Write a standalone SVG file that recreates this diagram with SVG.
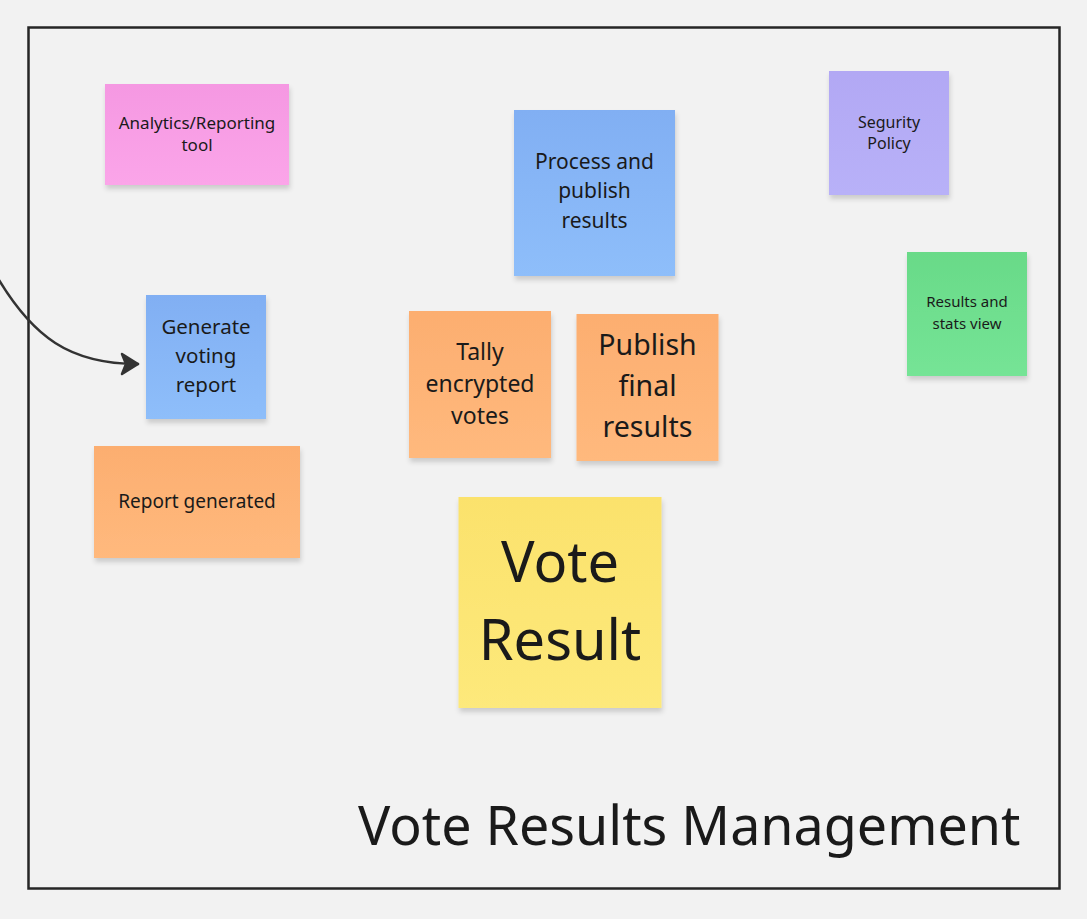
<svg xmlns="http://www.w3.org/2000/svg" width="1087" height="919" viewBox="0 0 1087 919">
<style>
  text { font-family: "Noto Sans", "Open Sans", sans-serif; text-anchor: middle; fill: #1a1a1a; }
  .note { filter: url(#shadow); }
  .frame { fill: none; stroke: #262626; stroke-width: 2.5; }
  .conn { fill: none; stroke: #333333; stroke-width: 2.5; stroke-linecap: round; }
</style>
<defs>
  <filter id="shadow" x="-10%" y="-10%" width="125%" height="130%">
    <feDropShadow dx="1" dy="4" stdDeviation="2.5" flood-color="#000" flood-opacity="0.16"/>
  </filter>
  <linearGradient id="gPink" x1="0" y1="0" x2="0" y2="1"><stop offset="0" stop-color="#f598e2"/><stop offset="1" stop-color="#fba5e9"/></linearGradient>
  <linearGradient id="gPurple" x1="0" y1="0" x2="0" y2="1"><stop offset="0" stop-color="#b2a8f4"/><stop offset="1" stop-color="#b8b1f8"/></linearGradient>
  <linearGradient id="gGreen" x1="0" y1="0" x2="0" y2="1"><stop offset="0" stop-color="#69da88"/><stop offset="1" stop-color="#75e496"/></linearGradient>
  <linearGradient id="gBlue" x1="0" y1="0" x2="0" y2="1"><stop offset="0" stop-color="#81aff3"/><stop offset="1" stop-color="#8ebefa"/></linearGradient>
  <linearGradient id="gOrange" x1="0" y1="0" x2="0" y2="1"><stop offset="0" stop-color="#fcae70"/><stop offset="1" stop-color="#ffb97d"/></linearGradient>
  <linearGradient id="gYellow" x1="0" y1="0" x2="0" y2="1"><stop offset="0" stop-color="#fbe26c"/><stop offset="1" stop-color="#fde97b"/></linearGradient>
  <marker id="arrow" viewBox="0 0 20 24" refX="18" refY="12" markerWidth="20" markerHeight="24" markerUnits="userSpaceOnUse" orient="auto">
    <path d="M2,2 L18,12 L2,22 L6,12 Z" fill="#333333" stroke="#333333" stroke-width="2.5" stroke-linejoin="round"/>
  </marker>
</defs>
<rect x="0" y="0" width="1087" height="919" fill="#f2f2f2"/>

<g id="frame">
  <rect class="frame" x="28.5" y="27.5" width="1031" height="861"/>
  <text x="358" y="845" font-size="53.8" style="text-anchor:start">Vote Results Management</text>
</g>

<g id="connectors">
  <path class="conn" d="M -8 268 C 32 340, 72 364, 138 364" marker-end="url(#arrow)"/>
</g>

<g id="analytics-tool">
  <rect class="note" x="105" y="84" width="184" height="101" fill="url(#gPink)"/>
  <text x="197" y="128.5" font-size="17">Analytics/Reporting</text>
  <text x="197" y="150.5" font-size="17">tool</text>
</g>

<g id="process-publish">
  <rect class="note" x="514" y="110" width="161" height="166" fill="url(#gBlue)"/>
  <text x="594.5" y="168.5" font-size="21">Process and</text>
  <text x="594.5" y="198" font-size="21">publish</text>
  <text x="594.5" y="227.5" font-size="21">results</text>
</g>

<g id="security-policy">
  <rect class="note" x="829" y="71" width="120" height="124" fill="url(#gPurple)"/>
  <text x="889" y="128.3" font-size="16">Segurity</text>
  <text x="889" y="149.3" font-size="16">Policy</text>
</g>

<g id="results-stats-view">
  <rect class="note" x="907" y="252" width="120" height="124" fill="url(#gGreen)"/>
  <text x="967" y="307.3" font-size="15">Results and</text>
  <text x="967" y="328.5" font-size="15">stats view</text>
</g>

<g id="generate-report">
  <rect class="note" x="146" y="295" width="120" height="124" fill="url(#gBlue)"/>
  <text x="206" y="334" font-size="20.5">Generate</text>
  <text x="206" y="363" font-size="20.5">voting</text>
  <text x="206" y="392" font-size="20.5">report</text>
</g>

<g id="tally-votes">
  <rect class="note" x="409" y="311" width="142" height="147" fill="url(#gOrange)"/>
  <text x="480" y="359.5" font-size="23">Tally</text>
  <text x="480" y="391.5" font-size="23">encrypted</text>
  <text x="480" y="423.5" font-size="23">votes</text>
</g>

<g id="publish-final">
  <rect class="note" x="576.5" y="314" width="142" height="147" fill="url(#gOrange)"/>
  <text x="647.5" y="355" font-size="28.5">Publish</text>
  <text x="647.5" y="396" font-size="28.5">final</text>
  <text x="647.5" y="437" font-size="28.5">results</text>
</g>

<g id="report-generated">
  <rect class="note" x="94" y="446" width="206" height="112" fill="url(#gOrange)"/>
  <text x="197" y="507.5" font-size="19">Report generated</text>
</g>

<g id="vote-result">
  <rect class="note" x="458.5" y="497" width="203" height="211" fill="url(#gYellow)"/>
  <text x="560" y="582" font-size="56">Vote</text>
  <text x="560" y="660" font-size="56">Result</text>
</g>
</svg>
